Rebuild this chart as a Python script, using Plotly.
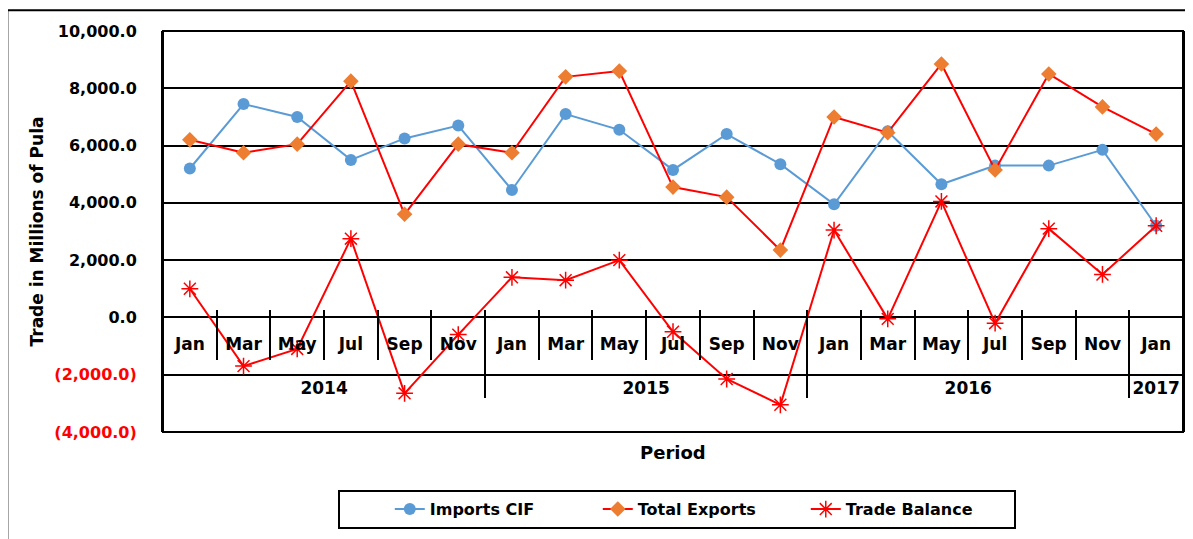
import plotly.graph_objects as go

# Monthly trade (millions of Pula)
years = ["2014"] * 6 + ["2015"] * 6 + ["2016"] * 6 + ["2017"]
months = ["Jan", "Mar", "May", "Jul", "Sep", "Nov"] * 3 + ["Jan"]

imports_cif = [5200, 7450, 7000, 5500, 6250, 6700,
               4450, 7100, 6550, 5150, 6400, 5350,
               3950, 6500, 4650, 5300, 5300, 5850,
               3200]
total_exports = [6200, 5750, 6050, 8250, 3600, 6050,
                 5750, 8400, 8600, 4550, 4200, 2350,
                 7000, 6450, 8850, 5150, 8500, 7350,
                 6400]
trade_balance = [1000, -1700, -1100, 2750, -2650, -600,
                 1400, 1300, 2000, -500, -2150, -3050,
                 3050, -50, 4050, -200, 3100, 1500,
                 3200]

y_ticks = [-4000, -2000, 0, 2000, 4000, 6000, 8000, 10000]

FONT = "DejaVu Sans"


def tick_label(v):
    s = f"{abs(v):,.1f}"
    if v < 0:
        return f'<span style="color:#FF0000">({s})</span>'
    return s


# label rows pushed down with line breaks so they sit like the original
x = [["<br><br>" + y for y in years], ["<br>" + m for m in months]]

fig = go.Figure()
fig.add_trace(go.Scatter(
    x=x, y=imports_cif, name="Imports CIF", mode="lines+markers",
    line=dict(color="#5B9BD5", width=2),
    marker=dict(symbol="circle", size=12, color="#5B9BD5"),
))
fig.add_trace(go.Scatter(
    x=x, y=total_exports, name="Total Exports", mode="lines+markers",
    line=dict(color="#FF0000", width=2),
    marker=dict(symbol="diamond", size=12, color="#ED7D31"),
))
fig.add_trace(go.Scatter(
    x=x, y=trade_balance, name="Trade Balance", mode="lines+markers",
    line=dict(color="#FF0000", width=2),
    marker=dict(symbol="asterisk-open", size=14, color="#FF0000",
                line=dict(color="#FF0000", width=1.5)),
))

# page body has an 8px margin, so the figure is laid out 8px smaller
fig.update_layout(
    width=1185, height=531,
    margin=dict(l=155, r=8, t=23, b=107),
    paper_bgcolor="white", plot_bgcolor="white",
    font=dict(family=FONT, color="black"),
    showlegend=True,
    legend=dict(
        orientation="h", x=0.504, xanchor="center", y=-0.145, yanchor="top",
        bordercolor="black", borderwidth=2, entrywidth=163,
        title=dict(text="&nbsp;" * 6, side="left"),
        font=dict(family=FONT, size=16, color="black", weight="bold"),
    ),
    xaxis=dict(
        type="multicategory", anchor="free", position=4 / 14 + 8 / 401,
        range=[-0.5, len(months) - 0.5],
        showline=False,
        ticks="outside", tickson="boundaries", ticklen=50,
        tickcolor="black", tickwidth=1.5, tickangle=0,
        dividercolor="black", dividerwidth=1.5,
        showgrid=False,
        tickfont=dict(family=FONT, size=17, color="black", weight="bold"),
    ),
    yaxis=dict(
        range=[-4000, 10000], tickvals=y_ticks,
        ticktext=[tick_label(v) for v in y_ticks],
        showgrid=True, gridcolor="black", gridwidth=1.5,
        zeroline=False, showline=True, mirror=True,
        linecolor="black", linewidth=2,
        ticklabelstandoff=21,
        tickfont=dict(family=FONT, size=16, color="black", weight="bold"),
        title=dict(text="Trade in Millions of Pula", standoff=6,
                   font=dict(family=FONT, size=17, color="black", weight="bold")),
    ),
    annotations=[dict(
        text="Period", x=0.5, y=-0.05, xref="paper", yref="paper",
        xanchor="center", yanchor="middle", showarrow=False,
        font=dict(family=FONT, size=18, color="black", weight="bold"),
    )],
    shapes=[
        dict(type="rect", xref="paper", yref="paper", x0=0, x1=1, y0=0, y1=1,
             line=dict(color="black", width=2)),
        dict(type="rect", xref="paper", yref="paper",
             x0=-0.1526, x1=1.005, y0=-0.3, y1=1.052,
             line=dict(color="black", width=2)),
    ],
)

fig.write_html("out.html")
